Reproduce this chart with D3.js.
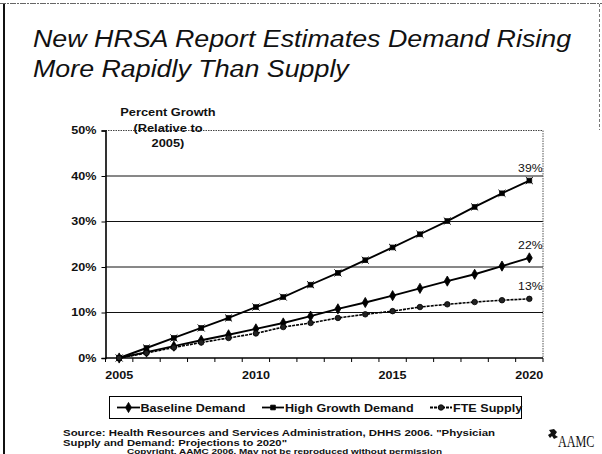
<!DOCTYPE html>
<html>
<head>
<meta charset="utf-8">
<script src="https://cdn.jsdelivr.net/npm/d3@7"></script>
<style>
  html, body { margin: 0; padding: 0; background: #fff; }
  svg { display: block; font-family: "Liberation Sans", Arial, sans-serif; }
</style>
</head>
<body>
<svg id="slide" width="602" height="454"></svg>
<script>
// Projected percent growth relative to 2005
const years = [2005, 2006, 2007, 2008, 2009, 2010, 2011, 2012, 2013, 2014, 2015, 2016, 2017, 2018, 2019, 2020];
const baselineDemand = [0, 1.3, 2.6, 3.9, 5.1, 6.4, 7.7, 9.2, 10.8, 12.2, 13.7, 15.3, 16.9, 18.4, 20.2, 22];
const highGrowthDemand = [0, 2.2, 4.4, 6.6, 8.8, 11.2, 13.4, 16.1, 18.7, 21.5, 24.3, 27.2, 30.1, 33.2, 36.2, 39];
const fteSupply = [0, 1.1, 2.3, 3.4, 4.4, 5.4, 6.8, 7.7, 8.8, 9.6, 10.3, 11.2, 11.8, 12.3, 12.7, 13];
const yTicks = [0, 10, 20, 30, 40, 50];
const xLabelYears = [2005, 2010, 2015, 2020];
const seriesNames = ["Baseline Demand", "High Growth Demand", "FTE Supply"];

const svg = d3.select("#slide");
const SANS = "'Liberation Sans', Arial, sans-serif";
const STRETCH = 1.165; // slide text is rendered slightly wide

// slide frame
svg.append("line").attr("x1", 4).attr("x2", 4).attr("y1", 4).attr("y2", 454)
  .attr("stroke", "#111").attr("stroke-width", 2);
svg.append("line").attr("x1", 0).attr("x2", 602).attr("y1", 3.5).attr("y2", 3.5)
  .attr("stroke", "#666").attr("stroke-width", 1.2).attr("stroke-dasharray", "6,1,2,1");
svg.append("line").attr("x1", 599.5).attr("x2", 599.5).attr("y1", 4).attr("y2", 130)
  .attr("stroke", "#777").attr("stroke-width", 1).attr("stroke-dasharray", "3,2");

// title
const title = svg.append("g").attr("font-family", SANS).attr("font-style", "italic")
  .attr("font-size", 23).attr("fill", "#111");
title.append("text").attr("x", 33).attr("y", 47).text("New HRSA Report Estimates Demand Rising");
title.append("text").attr("x", 33).attr("y", 76.5).text("More Rapidly Than Supply");

// scales
const x = d3.scaleBand().domain(years).range([105.5, 543]).padding(0);
const cx = d => x(d) + x.bandwidth() / 2;
const y = d3.scaleLinear().domain([0, 50]).range([358, 130.5]);

const plot = svg.append("g");

// gridlines
plot.selectAll("line.grid").data(yTicks.filter(t => t > 0 && t < 50)).join("line")
  .attr("class", "grid")
  .attr("x1", 105.5).attr("x2", 543).attr("y1", d => y(d)).attr("y2", d => y(d))
  .attr("stroke", "#111").attr("stroke-width", 1);
// top and right border of plot area (dotted)
plot.append("line").attr("x1", 105.5).attr("x2", 543).attr("y1", y(50)).attr("y2", y(50))
  .attr("stroke", "#444").attr("stroke-width", 1).attr("stroke-dasharray", "1.5,1");
plot.append("line").attr("x1", 543).attr("x2", 543).attr("y1", y(50)).attr("y2", y(0))
  .attr("stroke", "#555").attr("stroke-width", 1).attr("stroke-dasharray", "1.5,1");

// y axis
const yAxis = d3.axisLeft(y).tickValues(yTicks).tickSize(4).tickFormat(d => d + "%");
const gy = plot.append("g").attr("transform", "translate(105.5,0)").call(yAxis);
gy.select(".domain").attr("stroke", "#000").attr("stroke-width", 1.6);
gy.selectAll(".tick line").attr("stroke", "#000");
gy.selectAll(".tick text").attr("font-family", SANS).attr("font-weight", "bold")
  .attr("font-size", 10.8).attr("fill", "#111").attr("x", -9);

// x axis: ticks between categories
const gx = plot.append("g").attr("transform", "translate(0,358)");
gx.append("line").attr("x1", 105.5).attr("x2", 543).attr("stroke", "#000").attr("stroke-width", 1.4);
gx.selectAll("line.tk").data(years.concat([null])).join("line").attr("class", "tk")
  .attr("x1", (d, i) => i < years.length ? x(d) : 543)
  .attr("x2", (d, i) => i < years.length ? x(d) : 543)
  .attr("y1", 0).attr("y2", 4).attr("stroke", "#000").attr("stroke-width", 1);
gx.selectAll("text").data(xLabelYears).join("text")
  .attr("x", d => cx(d)).attr("y", 21).attr("text-anchor", "middle")
  .attr("font-family", SANS).attr("font-weight", "bold").attr("font-size", 10.8)
  .attr("fill", "#111").text(d => d);

// y axis title
const yt = plot.append("g").attr("font-family", SANS).attr("font-weight", "bold")
  .attr("font-size", 11).attr("fill", "#111").attr("text-anchor", "middle");
yt.append("text").attr("x", 168).attr("y", 116).text("Percent Growth");
yt.append("text").attr("x", 168).attr("y", 131.5).text("(Relative to");
yt.append("text").attr("x", 168).attr("y", 146.5).text("2005)");

// series
const symbols = [d3.symbolDiamond, d3.symbolSquare, d3.symbolCircle];
const symSize = [30, 22, 24];
const dashes = [null, null, "3,1"];
const fills = ["#000", "#000", "#222"];
const seriesData = [baselineDemand, highGrowthDemand, fteSupply];

const line = d3.line().x((d, i) => cx(years[i])).y(d => y(d));

seriesData.forEach((vals, s) => {
  const g = plot.append("g");
  g.append("path").datum(vals).attr("d", line).attr("fill", "none")
    .attr("stroke", "#000").attr("stroke-width", s === 2 ? 1.6 : 1.9)
    .attr("stroke-dasharray", dashes[s]);
  g.selectAll("path.m").data(vals).join("path").attr("class", "m")
    .attr("transform", (d, i) => `translate(${cx(years[i])},${y(d)})`)
    .attr("d", d3.symbol().type(symbols[s]).size(symSize[s]))
    .attr("fill", fills[s]).attr("stroke", "#000").attr("stroke-width", 0.8);
  if (s === 1) {
    g.selectAll("path.x").data(vals).join("path").attr("class", "x")
      .attr("transform", (d, i) => `translate(${cx(years[i])},${y(d)})`)
      .attr("d", d3.symbol().type(d3.symbolX).size(34))
      .attr("fill", "none").attr("stroke", "#000").attr("stroke-width", 1);
  }
  const last = vals[vals.length - 1];
  g.append("text").attr("x", cx(years[years.length - 1]) + 1).attr("y", y(last) - 8.5)
    .attr("text-anchor", "middle").attr("font-family", SANS).attr("font-size", 10.5)
    .attr("fill", "#111").text(Math.round(last) + "%");
});

// legend
const leg = svg.append("g");
leg.append("rect").attr("x", 109.5).attr("y", 396.5).attr("width", 412).attr("height", 22)
  .attr("fill", "#fff").attr("stroke", "#000").attr("stroke-width", 1);
const legItems = [
  { s: 0, x0: 117, x1: 140, tx: 140.5 },
  { s: 1, x0: 262, x1: 284, tx: 285 },
  { s: 2, x0: 430, x1: 452, tx: 453 }
];
legItems.forEach(it => {
  const ly = 407.5;
  leg.append("line").attr("x1", it.x0).attr("x2", it.x1).attr("y1", ly).attr("y2", ly)
    .attr("stroke", "#000").attr("stroke-width", 1.8).attr("stroke-dasharray", dashes[it.s]);
  leg.append("path").attr("transform", `translate(${(it.x0 + it.x1) / 2},${ly})`)
    .attr("d", d3.symbol().type(symbols[it.s]).size(symSize[it.s]))
    .attr("fill", fills[it.s]).attr("stroke", "#000").attr("stroke-width", 0.8);
  leg.append("text").attr("x", it.tx).attr("y", ly + 4)
    .attr("font-family", SANS).attr("font-weight", "bold").attr("font-size", 10.8)
    .attr("fill", "#111").text(seriesNames[it.s]);
});

// source and copyright
const src = svg.append("g").attr("font-family", SANS).attr("font-weight", "bold").attr("fill", "#111");
src.append("text").attr("x", 63).attr("y", 435.5).attr("font-size", 9.8)
  .attr("data-w", 432)
  .text("Source: Health Resources and Services Administration, DHHS 2006. \"Physician");
src.append("text").attr("x", 63).attr("y", 446).attr("font-size", 9.5)
  .attr("data-w", 224)
  .text("Supply and Demand: Projections to 2020\"");
src.append("text").attr("x", 127).attr("y", 453.5).attr("font-size", 6.6)
  .attr("data-w", 315)
  .text("Copyright, AAMC 2006. May not be reproduced without permission");

// widen glyph runs uniformly
svg.selectAll("text").each(function () {
  const w = this.getAttribute("data-w");
  const len = w ? +w : this.getComputedTextLength() * STRETCH;
  d3.select(this).attr("textLength", len).attr("lengthAdjust", "spacingAndGlyphs");
});

// AAMC mark (serif word narrowed with a transform)
const logo = svg.append("g");
logo.append("path")
  .attr("d", "M549,430 L554,429 L557,432 L555,435 L558,437 L554,439 L552,436 L550,438 L548,435 L551,433 Z")
  .attr("fill", "#111");
logo.append("text").attr("transform", "translate(558,447) scale(0.76,1)")
  .attr("font-family", "'Liberation Serif', 'Times New Roman', serif")
  .attr("font-size", 16).attr("fill", "#111").text("AAMC");
</script>
</body>
</html>
